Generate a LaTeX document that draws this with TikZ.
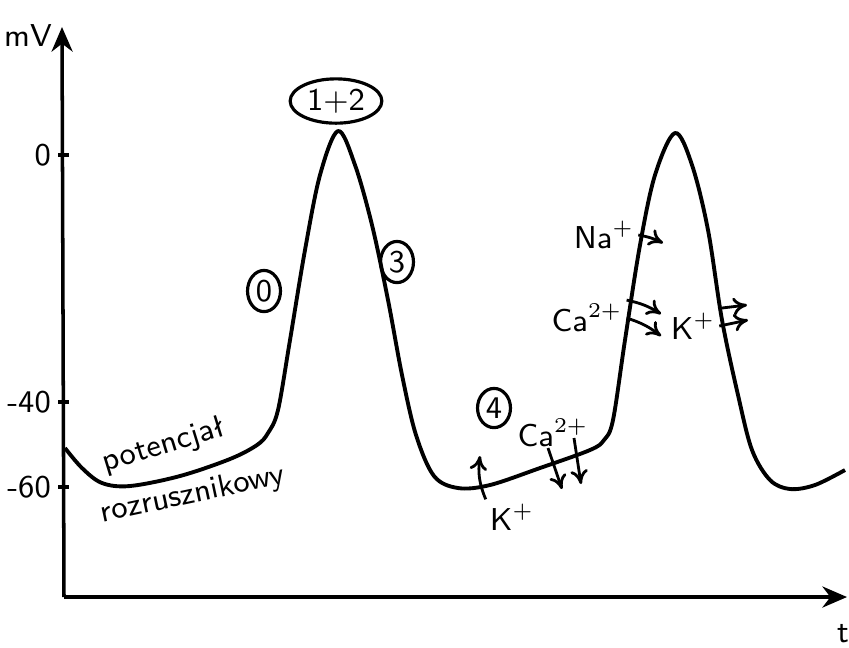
\documentclass[tikz,border=0pt]{standalone}
\usepackage{tikz}
\usetikzlibrary{arrows.meta,shapes.geometric,positioning}

\tikzset{
  axis/.style={line width=1pt, -{Stealth[length=7pt,width=6pt]}},
  trace/.style={line width=1.1pt, line join=round},
  phase/.style={draw, ellipse, line width=0.9pt, inner sep=1pt, font=\sffamily\small},
  ion/.style={font=\sffamily\small, inner sep=1pt},
  flux/.style={line width=0.8pt, -{To[length=4pt,width=5pt]}},
  tick/.style={line width=1pt}
}

\begin{document}
\begin{tikzpicture}[x=0.01cm, y=-0.01cm]
    \useasboundingbox (0,0) rectangle (849,647);

    % Axes
    \coordinate (O) at (64,597);
    \coordinate (ytop) at (62,27);
    \coordinate (xend) at (847,597);
    \draw[axis] (O) -- (ytop);
    \draw[axis] (O) -- (xend);
    \node[font=\sffamily\small] (mV) at (28,36) {mV};
    \node[font=\sffamily\small] (tlab) at (843,634) {t};

    % Ticks and labels
    \foreach \yy/\lab in {155/0, 402/-40, 487/-60} {
      \draw[tick] (58,\yy) -- (69,\yy);
      \node[font=\sffamily\small, anchor=east, inner sep=1pt] at (55,\yy) {\lab};
    }

    % Action potential trace
    \draw[trace] plot[smooth, tension=0.55] coordinates {
      (65,448) (82,468) (102,483) (130,486) (180,476) (230,459)
      (257,445) (268,433) (278,410) (290,340) (305,250) (320,175)
      (338,131) (355,165) (372,225) (388,300) (402,375) (416,435)
      (434,476) (458,488) (490,485) (540,468) (590,450) (604,440)
      (613,420) (625,340) (640,245) (655,175) (675,133) (692,165)
      (708,230) (722,320) (738,395) (752,450) (770,480) (790,489)
      (815,485) (845,470)};

    % Phases
    \node[phase] (p12) at (336,101) {1+2};
    \node[phase] (p0) at (264,291) {0};
    \node[phase] (p3) at (397,262) {3};
    \node[phase] (p4) at (494,408) {4};

    % Pacemaker potential label
    \node[font=\sffamily\small, rotate=17] (pot) at (164,446) {potencjał};
    \node[font=\sffamily\small, rotate=12] (roz) at (193,495) {rozrusznikowy};

    % Ions in phase 4
    \node[ion] (K1) at (512,517) {K$^+$};
    \coordinate (K1e) at (480,456);
    \draw[flux] (K1.north west) to[bend left=15] (K1e);
    \node[ion] (Ca1) at (553,433) {Ca$^{2+}$};
    \coordinate (Ca1a) at (562,489);
    \coordinate (Ca1b) at (581,484);
    \draw[flux] (548,448) -- (Ca1a);
    \draw[flux] (574,438) -- (Ca1b);

    % Ions across the second spike
    \node[ion] (Na) at (604,235) {Na$^+$};
    \coordinate (Nae) at (663,243);
    \draw[flux] (Na.east) to[bend left=8] (Nae);
    \node[ion] (Ca2) at (587,318) {Ca$^{2+}$};
    \coordinate (Ca2a) at (661,314);
    \coordinate (Ca2b) at (661,336);
    \draw[flux] (Ca2.north east) to[bend left=10] (Ca2a);
    \draw[flux] (Ca2.east) to[bend left=10] (Ca2b);
    \node[ion] (K2) at (693,326) {K$^+$};
    \coordinate (K2a) at (747,305);
    \coordinate (K2b) at (748,320);
    \draw[flux] (K2.north east) -- (K2a);
    \draw[flux] (K2.east) -- (K2b);
\end{tikzpicture}
\end{document}
